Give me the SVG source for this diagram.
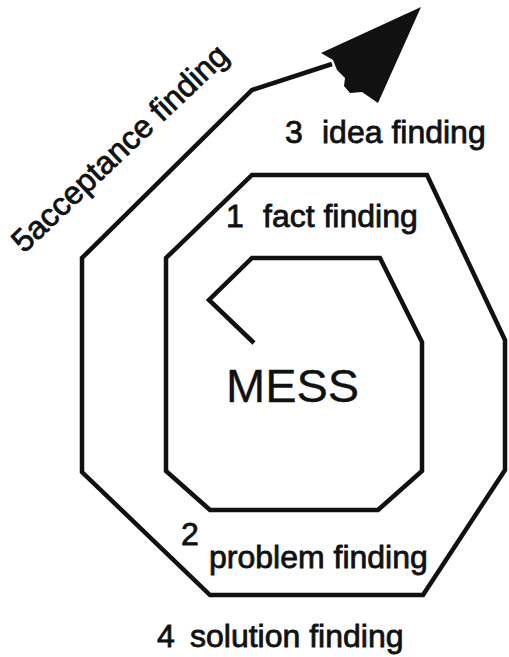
<svg xmlns="http://www.w3.org/2000/svg" width="509" height="657" viewBox="0 0 509 657">
<style>
.lbl{font-family:"Liberation Sans",Arial,sans-serif;fill:#111;stroke:#111;stroke-width:0.8;font-size:32px}
.sp{fill:none;stroke:#111;stroke-width:4.5;stroke-linejoin:miter;stroke-linecap:butt}
</style>
<rect width="509" height="657" fill="#fff"/>
<g id="connectors">
<path class="sp" d="M254,343 L209,300 L252,258 L380,258 L422,342 L422,471 L378,510 L210,510 L166,471 L166,258 L252,175 L427,175 L505,340 L505,470 L423,595 L210,595 L82,472 L82,258 L252,90 L332,64"/>
<path id="arrowhead" fill="#111" d="M321,53 L421,7 L378,103 L362,92 L350,93 L344,86 L345,78 L337,70 L333,60 Z"/>
</g>
<g id="mess"><text class="lbl" x="226" y="402" style="font-size:47px;stroke-width:0.3">MESS</text></g>
<g id="fact"><text class="lbl" y="227"><tspan x="226">1</tspan><tspan x="263">fact finding</tspan></text></g>
<g id="problem"><text class="lbl" x="181" y="545">2</text><text class="lbl" x="209" y="568">problem finding</text></g>
<g id="idea"><text class="lbl" y="143"><tspan x="285">3</tspan><tspan x="322">idea finding</tspan></text></g>
<g id="solution"><text class="lbl" y="647"><tspan x="157">4</tspan><tspan x="190">solution finding</tspan></text></g>
<g id="acceptance"><text class="lbl" transform="translate(24,254) rotate(-43.5)" style="font-size:32px">5acceptance finding</text></g>
</svg>
